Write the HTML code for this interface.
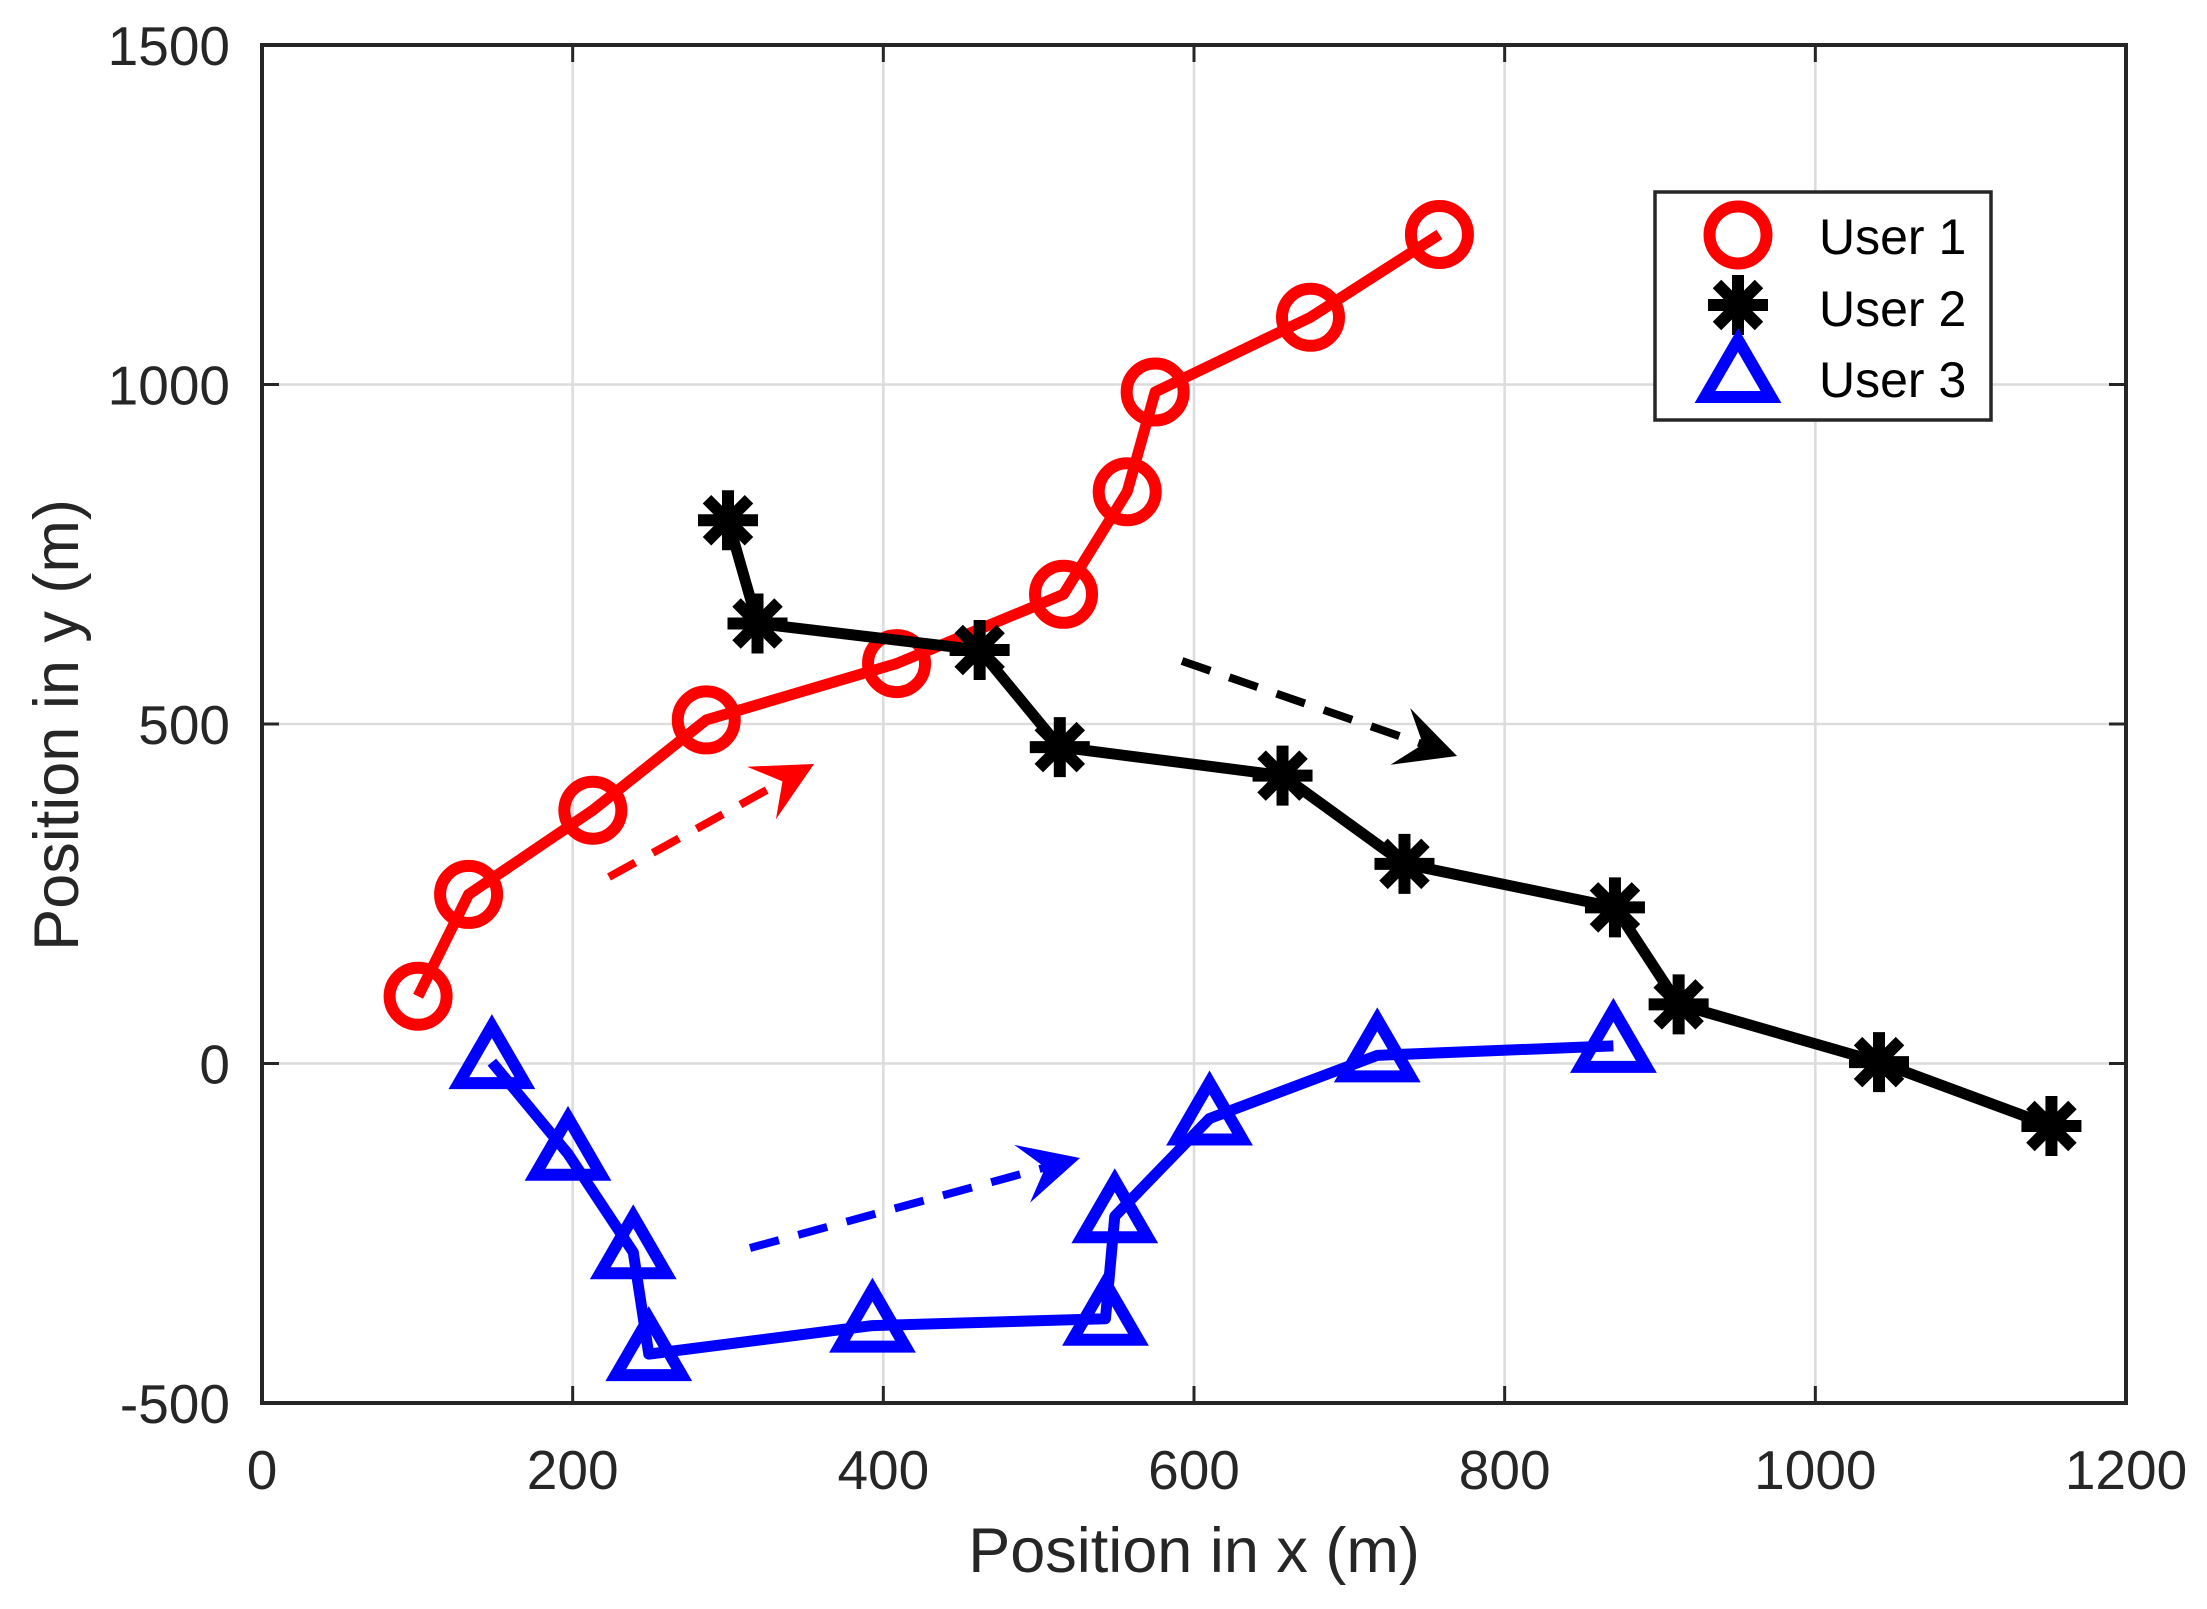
<!DOCTYPE html>
<html><head><meta charset="utf-8"><style>
html,body{margin:0;padding:0;background:#fff}
svg{display:block}
text{font-family:"Liberation Sans",Arial,sans-serif;fill:#262626}
</style></head><body>
<svg id="s" width="2207" height="1609" viewBox="0 0 2207 1609" xmlns="http://www.w3.org/2000/svg">
<rect width="2207" height="1609" fill="#fff"/>
<g id="grid" stroke="#dcdcdc" stroke-width="2.5"></g>
<g id="ticks" stroke="#262626" stroke-width="3"></g>
<g id="labels" font-size="55"></g>
<g id="plot"></g>
<rect x="262" y="45" width="1864" height="1358" fill="none" stroke="#262626" stroke-width="4"/>
<text x="1194" y="1572" font-size="63" text-anchor="middle">Position in x (m)</text>
<text transform="translate(78,725) rotate(-90)" font-size="63" text-anchor="middle">Position in y (m)</text>
<g id="legend">
<rect x="1655" y="192" width="336" height="228" fill="#fff" stroke="#262626" stroke-width="3.5"/>
<text x="1819" y="254" font-size="50" style="fill:#000">User 1</text>
<text x="1819" y="326" font-size="50" style="fill:#000">User 2</text>
<text x="1819" y="397" font-size="50" style="fill:#000">User 3</text>
</g>
</svg>
<script>
var NS="http://www.w3.org/2000/svg",s=document.getElementById('s');
function X(x){return 262+x*1864/1200}function Y(y){return 1403-(y+500)*1358/2000}
function el(p,t,a){var e=document.createElementNS(NS,t);for(var k in a)e.setAttribute(k,a[k]);p.appendChild(e);return e}
var g=document.getElementById('grid'),tk=document.getElementById('ticks'),lb=document.getElementById('labels');
for(var x=200;x<1200;x+=200){el(g,'line',{x1:X(x),x2:X(x),y1:45,y2:1403});}
for(var y=0;y<1500;y+=500){el(g,'line',{x1:262,x2:2126,y1:Y(y),y2:Y(y)});}
for(var x=0;x<=1200;x+=200){el(tk,'line',{x1:X(x),x2:X(x),y1:1403,y2:1386});el(tk,'line',{x1:X(x),x2:X(x),y1:45,y2:62});
 var t=el(lb,'text',{x:X(x),y:1489,'text-anchor':'middle'});t.textContent=x;}
for(var y=-500;y<=1500;y+=500){el(tk,'line',{x1:262,x2:279,y1:Y(y),y2:Y(y)});el(tk,'line',{x1:2126,x2:2109,y1:Y(y),y2:Y(y)});
 var t=el(lb,'text',{x:230,y:Y(y)+20,'text-anchor':'end'});t.textContent=y;}
var P=document.getElementById('plot');
var u1=[[100.5,99],[133,249],[213,373],[286,506],[408.5,589],[516,691],[557,842],[575,989],[675,1099],[758,1221]];
var u2=[[300,800],[319,648],[462,609],[513.6,466],[657,424],[735.5,294],[871,230],[912,87],[1041,2],[1152,-92]];
var u3=[[148,2],[197,-133],[239,-278],[249,-428],[393,-386],[543,-376],[549,-225],[610,-81],[718,12],[870,26]];
function line(d,c){el(P,'polyline',{points:d.map(function(p){return X(p[0])+','+Y(p[1])}).join(' '),fill:'none',stroke:c,'stroke-width':11,'stroke-linejoin':'round'});}
function circ(par,x,y){el(par,'circle',{cx:x,cy:y,r:28.5,fill:'none',stroke:'#f00','stroke-width':12});}
function ast(par,x,y){var a=30,b=21;el(par,'path',{d:'M'+(x-a)+' '+y+'H'+(x+a)+'M'+x+' '+(y-a)+'V'+(y+a)+'M'+(x-b)+' '+(y-b)+'L'+(x+b)+' '+(y+b)+'M'+(x-b)+' '+(y+b)+'L'+(x+b)+' '+(y-b),stroke:'#000','stroke-width':12,fill:'none'});}
function tri(par,x,y){el(par,'path',{d:'M'+x+' '+(y-36)+'L'+(x+33)+' '+(y+21)+'L'+(x-33)+' '+(y+21)+'Z',fill:'none',stroke:'#00f','stroke-width':12,'stroke-linejoin':'miter','stroke-miterlimit':10});}
line(u1,'#f00');u1.forEach(function(p){circ(P,X(p[0]),Y(p[1]));});
line(u2,'#000');u2.forEach(function(p){ast(P,X(p[0]),Y(p[1]));});
line(u3,'#00f');u3.forEach(function(p){tri(P,X(p[0]),Y(p[1]));});
function arrow(x1,y1,x2,y2,c){var dx=x2-x1,dy=y2-y1,L=Math.hypot(dx,dy),ux=dx/L,uy=dy/L,h=60,w=30;
 var bx=x2-ux*h,by=y2-uy*h;
 el(P,'line',{x1:x1,y1:y1,x2:x2-ux*36,y2:y2-uy*36,stroke:c,'stroke-width':8,'stroke-dasharray':'30 20'});
 var ix=x2-ux*h*0.6,iy=y2-uy*h*0.6;
 el(P,'path',{d:'M'+x2+' '+y2+'L'+(bx-uy*w)+' '+(by+ux*w)+'L'+ix+' '+iy+'L'+(bx+uy*w)+' '+(by-ux*w)+'Z',fill:c});}
arrow(609,877,814,764,'#f00');arrow(1182,661,1457,756,'#000');arrow(750,1248,1080,1158,'#00f');
var L=document.getElementById('legend');circ(L,1738,235);ast(L,1738,305);tri(L,1738,376);
</script>
</body></html>
